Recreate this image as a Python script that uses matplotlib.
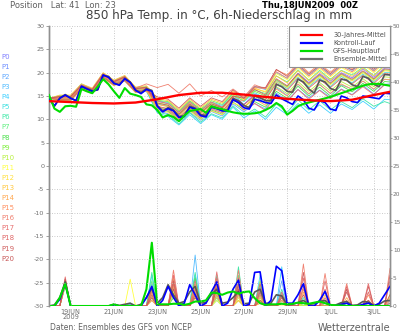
import numpy as np
import matplotlib
matplotlib.use('Agg')
import matplotlib.pyplot as plt
from matplotlib.patches import Rectangle
from matplotlib.lines import Line2D

plt.rcParams['font.family'] = ['DejaVu Sans']
plt.rcParams['axes.unicode_minus'] = False

# ---------------- time axes (hours after 18JUN2009 00Z) ----------------
hours6 = list(range(0, 384, 6))                 # 6-hourly, main runs
hours_mem = list(range(0, 384, 12)) + [378]     # members temperature
red_hours = list(range(0, 384, 24)) + [378]     # climatology

date_days = [1, 3, 5, 7, 9, 11, 13, 15]
date_labels = ["19JUN\n2009", "21JUN", "23JUN", "25JUN", "27JUN", "29JUN", "1JUL", "3JUL"]

# ---------------- 850 hPa temperature (deg C) ----------------
mean_t = [14.5, 12.8, 14.6, 15.3, 14.6, 14.0, 17.0, 16.6, 16.1, 16.3, 19.4, 19.2,
          17.8, 17.4, 18.8, 18.0, 16.3, 15.7, 16.6, 16.2, 13.0, 11.8, 12.5, 12.0,
          10.6, 10.8, 12.8, 12.4, 11.0, 10.8, 12.8, 12.5, 12.0, 12.0, 14.5, 14.0,
          13.0, 12.5, 15.0, 14.6, 14.0, 14.0, 17.5, 17.0, 16.0, 15.8, 18.6, 18.0,
          16.5, 15.6, 18.4, 18.0, 16.6, 16.2, 18.6, 18.4, 17.4, 17.0, 19.2, 18.8,
          17.5, 17.0, 19.6, 19.5]
ctrl_t = [14.5, 12.9, 14.5, 15.2, 14.5, 14.0, 17.1, 16.5, 16.0, 16.4, 19.5, 19.0,
          17.7, 17.3, 18.7, 17.9, 16.2, 15.5, 16.4, 16.0, 12.8, 11.6, 12.3, 11.8,
          10.4, 10.6, 12.6, 12.2, 10.8, 10.5, 12.6, 12.3, 11.8, 11.8, 14.2, 13.6,
          12.5, 12.2, 14.3, 14.0, 13.6, 13.4, 15.2, 14.4, 13.8, 13.2, 15.0, 14.2,
          12.4, 12.0, 14.0, 13.6, 12.2, 11.9, 15.0, 14.6, 13.8, 13.6, 15.0, 14.8,
          14.6, 14.4, 15.6, 15.5]
gfs_t = [15.2, 12.3, 11.6, 12.8, 12.9, 12.7, 16.5, 16.0, 15.6, 17.0, 18.6, 17.5,
         16.0, 14.6, 16.7, 15.5, 15.2, 14.8, 13.2, 13.0, 12.0, 10.4, 10.9, 10.5,
         9.6, 10.8, 11.8, 12.0, 12.2, 11.4, 12.8, 12.4, 12.2, 11.8, 11.5, 11.3,
         11.2, 11.2, 11.3, 11.5, 12.0, 12.6, 13.5, 12.8, 11.0, 11.8, 12.8, 13.3,
         13.6, 13.9, 14.2, 14.5, 14.8, 15.2, 15.6, 16.0, 16.4, 16.8, 17.2, 17.5,
         17.6, 17.6, 17.4, 17.2]
clim_t = [13.9, 13.7, 13.5, 13.4, 13.6, 14.3, 15.2, 15.7, 15.7, 15.3, 14.8, 14.4,
          14.1, 13.9, 14.2, 15.2, 15.9]

mem_t = [
 [14.5,14.8,14.9,17.1,16.4,19.5,18.0,19.1,16.4,16.9,12.6,12.0,10.2,12.2,10.6,12.4,11.4,14.1,13.2,15.4,14.6,18.3,17.0,19.9,17.9,19.8,18.2,20.0,18.9,20.8,19.0,21.0,21.0],
 [14.5,14.3,14.2,16.8,15.8,19.0,17.6,18.4,16.1,16.2,13.9,13.3,11.5,13.5,11.9,13.5,12.6,15.2,13.2,15.0,13.5,16.8,15.1,17.5,15.4,17.5,15.5,17.4,16.5,18.2,16.4,18.6,18.4],
 [14.5,15.0,14.9,17.5,16.4,19.8,18.1,19.1,16.6,16.8,11.9,11.2,9.5,11.5,9.8,11.7,10.7,13.3,11.6,13.4,12.2,15.6,14.0,16.4,14.6,16.3,14.7,16.5,15.3,17.3,15.4,17.5,17.6],
 [14.5,14.7,14.5,17.2,16.0,19.6,17.7,18.9,16.2,16.8,13.6,13.1,11.0,13.4,11.6,13.4,12.8,15.6,14.6,17.0,16.4,20.0,18.8,21.6,19.4,21.5,19.5,21.6,20.5,22.2,20.4,22.6,22.4],
 [14.5,14.1,14.0,16.5,15.6,18.8,17.4,18.2,15.8,16.0,11.4,10.6,8.8,11.0,9.1,11.0,10.0,12.6,10.3,11.8,10.0,12.6,11.0,13.4,11.3,13.1,11.3,13.3,12.1,13.9,12.2,14.3,14.2],
 [14.5,14.9,14.8,17.4,16.3,19.7,18.2,19.0,16.7,16.9,14.0,13.6,11.5,13.9,12.0,13.7,13.0,15.4,13.8,15.7,14.5,18.0,16.6,19.0,17.0,18.9,17.0,19.2,17.8,19.7,18.1,20.0,20.0],
 [14.5,14.4,14.3,16.9,15.8,19.1,17.7,18.5,16.1,16.3,11.6,11.0,9.0,11.4,9.4,11.2,10.3,12.9,10.8,12.2,10.5,13.3,11.5,14.2,12.0,14.0,12.0,13.8,12.5,14.4,12.8,13.8,13.4],
 [14.5,15.1,15.0,17.6,16.5,19.9,18.3,19.3,16.8,17.0,13.3,12.8,10.9,13.1,11.4,13.1,12.5,15.0,14.0,16.3,15.5,19.3,18.0,20.6,18.4,20.5,18.6,20.5,19.5,21.2,19.4,21.6,21.5],
 [14.5,14.2,14.2,16.6,15.7,19.0,17.3,18.4,15.9,16.2,12.1,11.7,9.8,12.0,10.2,12.0,11.1,13.7,12.0,13.8,12.6,16.0,14.5,17.1,15.0,16.9,15.0,17.2,15.9,17.7,16.0,18.1,18.0],
 [14.5,14.8,14.8,17.2,16.3,19.6,18.0,19.0,16.5,16.8,14.1,13.8,11.8,14.0,12.2,14.0,13.2,15.6,14.1,16.0,15.0,18.5,17.0,19.6,17.5,19.4,17.6,19.6,18.4,20.2,18.5,20.6,20.5],
 [14.5,14.5,14.5,16.9,16.0,19.3,17.7,18.7,16.2,16.5,12.7,12.2,10.3,12.5,10.7,12.5,11.7,14.2,12.6,14.6,13.5,17.0,15.5,18.1,16.0,17.9,16.1,18.1,16.9,18.7,17.0,19.1,19.0],
 [14.5,14.9,14.9,17.3,16.4,19.7,18.1,19.1,16.6,16.9,13.6,13.1,11.2,13.4,11.6,13.4,12.6,15.2,14.2,16.5,16.0,19.8,18.5,21.1,19.0,20.9,19.1,21.1,19.9,21.7,20.0,22.1,22.0],
 [14.5,14.3,14.3,16.7,15.8,19.1,17.5,18.5,16.0,16.3,12.0,11.5,9.6,11.8,10.0,11.8,11.0,13.5,12.6,14.9,14.3,18.1,16.8,19.4,17.3,19.2,17.4,19.4,18.2,20.0,18.3,20.4,20.3],
 [14.5,15.2,15.2,17.6,16.7,20.0,18.4,19.4,16.9,17.2,14.5,14.0,12.1,14.3,12.5,14.3,13.5,16.0,14.6,16.7,15.8,19.3,17.8,20.4,18.3,20.2,18.4,20.4,19.2,21.0,19.3,21.4,21.3],
 [14.5,14.0,14.0,16.4,15.5,18.8,17.2,18.2,15.7,16.0,13.2,12.7,10.8,13.0,11.2,13.0,12.2,14.7,12.6,14.4,13.0,16.5,15.0,17.6,15.5,17.4,15.6,17.6,16.4,18.2,16.5,18.6,18.5],
 [14.5,14.7,14.7,17.1,16.2,19.5,17.9,18.9,16.4,16.7,12.4,11.9,10.0,12.2,10.4,12.2,11.4,13.9,14.0,16.8,16.6,20.6,19.5,22.1,20.0,21.9,20.1,22.1,20.9,22.7,21.0,23.1,23.0],
 [14.5,14.9,14.9,17.4,16.5,19.8,18.2,19.2,16.7,17.6,16.8,17.5,15.6,17.6,15.0,16.2,14.8,16.5,14.8,17.4,16.5,20.2,18.8,21.4,19.3,21.2,19.4,21.4,20.2,22.0,20.3,22.4,22.3],
 [14.5,14.4,14.4,16.8,15.9,19.2,17.6,18.6,16.1,16.4,13.9,13.4,11.5,13.7,11.9,13.7,12.6,14.9,12.0,13.4,11.9,15.3,13.8,16.4,14.3,16.2,14.4,16.4,15.2,17.0,15.3,17.4,17.3],
 [14.5,14.8,14.8,17.2,16.3,19.6,18.0,19.0,16.5,16.8,12.8,12.3,10.4,12.6,10.8,12.6,11.8,14.3,13.1,15.2,14.2,17.7,16.2,18.8,16.7,18.6,16.8,18.8,17.6,19.4,17.7,19.8,19.7],
 [14.5,14.2,14.2,16.6,15.7,19.0,17.4,18.4,15.9,16.2,14.8,14.3,12.4,14.6,12.8,14.6,13.8,16.3,14.5,16.4,15.2,18.7,17.2,19.8,17.7,19.6,17.8,19.8,18.6,20.4,18.7,20.8,20.7],
 [14.5,14.9,14.9,17.3,16.4,19.7,18.1,19.1,16.6,16.9,13.5,13.0,11.1,13.3,11.5,13.3,12.5,15.0,14.5,17.0,16.8,20.7,19.2,21.8,19.7,21.6,19.8,21.8,20.6,22.4,20.7,22.8,22.7],
]

# ---------------- 6h precipitation (mm) ----------------
mean_p = [0, 0.2, 1.5, 4.3, 0, 0, 0, 0, 0, 0, 0, 0, 0.3, 0.1, 0.3, 0.5,
          0, 0.3, 1.5, 3.2, 0.5, 1.5, 3.8, 2.0, 0.5, 0.8, 2.5, 3.5, 0.5, 0.6, 2.0, 3.0,
          0.5, 0.7, 1.5, 2.6, 0.4, 0.5, 2.5, 3.0, 0.5, 0.5, 2.0, 1.8, 0.2, 0.3, 0.6, 1.0,
          0.3, 0.4, 0.8, 1.0, 0.1, 0.2, 0.6, 0.8, 0.1, 0.2, 0.8, 0.7, 0.1, 0.3, 0.9, 1.0]
ctrl_p = [0, 0, 1.2, 4.0, 0, 0, 0, 0, 0, 0, 0, 0, 0.2, 0, 0, 0,
          0, 0, 1.5, 3.5, 0, 1.0, 3.5, 1.5, 0, 0.5, 3.8, 2.0, 0, 0.5, 2.5, 4.3,
          0, 0.5, 3.0, 4.6, 0, 0.3, 6.0, 6.1, 0, 1.0, 7.1, 6.3, 0.5, 0.5, 2.0, 4.0,
          0, 0, 1.0, 2.6, 0, 0, 0.3, 0.5, 0, 0, 0.3, 0.5, 0, 0.5, 2.0, 3.5]
gfs_p = [0, 0, 1.5, 4.0, 0, 0, 0, 0, 0, 0, 0, 0, 0.3, 0, 0, 0,
         0, 0, 3.0, 11.3, 0.3, 0.3, 0.3, 0.4, 0.4, 0.2, 0.4, 0.8, 0.8, 1.0, 2.4, 2.3,
         2.0, 2.4, 2.6, 2.2, 2.5, 2.6, 1.4, 0.5, 0.2, 0.3, 0.3, 0.4, 0.3, 0.4, 0.6, 0.5,
         0.4, 0.6, 0.8, 0.5, 0.2, 0.1, 0.1, 0, 0, 0, 0, 0, 0, 0, 0, 0]
# members: 6h amount ending 18Z of each day (other 6h steps dry)
mem_p18 = [
 [4.2,0,0,0,2.5,3.0,3.5,2.0,1.5,3.0,1.0,0,0.5,0,0,1.0],
 [4.5,0,0,0,3.5,4.5,2.0,4.5,3.0,1.0,2.0,0.5,0,0.5,0,0],
 [3.8,0,0,0.3,1.5,2.5,4.0,1.5,2.5,2.0,4.5,0,1.0,0,0.5,0],
 [4.0,0,0,0,4.0,3.5,9.1,3.0,2.0,4.0,2.5,1.0,0,0,0,0.5],
 [4.6,0,0,0.5,5.5,2.0,5.5,2.5,4.0,5.5,7.0,0.5,0,0,0,0],
 [3.5,0,0,0,3.0,5.0,4.5,1.0,3.5,2.5,1.5,0,0.5,0,0,0],
 [4.8,0,0,0,6.0,3.0,6.0,5.5,7.0,3.5,3.0,1.5,0,0,0,0.5],
 [4.0,0,0,0.5,4.5,4.0,3.0,2.0,5.5,2.0,0.5,0,0,0,0,0],
 [4.4,0,0,0,2.0,1.5,5.0,3.5,1.0,1.5,2.0,0.5,1.0,0,0,0],
 [3.6,0,0,0,3.5,3.5,2.5,4.0,2.0,4.5,1.0,0,0,0.5,0,0],
 [4.2,0,0,0,1.0,2.0,1.5,1.5,3.0,1.0,0.5,0,0,0,0,0],
 [3.9,0,0,4.8,2.5,2.5,3.0,1.0,1.5,0.5,1.0,0,0,0,0.5,0],
 [4.5,0,0,0,1.5,3.0,2.0,2.5,1.0,2.0,0,0.5,0,0,0,1.5],
 [4.0,0,0,0,3.0,4.5,4.0,3.0,1.0,1.5,0.5,1.0,2.0,0,1.0,2.0],
 [4.3,0,0,0,2.0,5.0,3.5,4.5,2.5,1.0,0.5,2.5,1.0,1.5,0,0],
 [3.7,0,0,0,1.0,3.5,2.0,2.0,2.0,0.5,1.5,3.0,0.5,0,2.0,1.0],
 [4.6,0,0,0,2.5,6.4,2.5,3.5,6.4,2.0,1.0,7.5,5.8,4.0,1.0,6.7],
 [5.2,0,0,0,3.5,5.5,4.5,6.1,3.5,3.0,2.5,5.0,1.5,1.0,4.0,0.5],
 [4.5,0,0,0,2.0,4.0,3.0,5.0,5.0,4.0,2.0,3.5,4.5,3.5,2.5,4.5],
 [4.1,0,0,0,3.0,4.5,2.0,4.0,3.0,2.5,1.5,6.0,3.0,2.5,3.5,2.0],
 [4.8,0,0,0,1.5,3.0,1.5,3.0,4.0,1.0,0.5,2.0,0,3.0,1.0,5.5],
]

mem_names = ["P%d" % i for i in range(21)]
mem_colors = ['#8080ff', '#7090ff', '#60a8ff', '#50bcff', '#40d0ff', '#40e0e0', '#40e8a8',
              '#60f080', '#50e050', '#80f040', '#b8f040', '#ffff40', '#ffe040', '#ffc840',
              '#ffa850', '#ff9060', '#f08070', '#e87070', '#e06868', '#d06060', '#c85858']

legend_labels = ["30-Jahres-Mittel", "Kontroll-Lauf", "GFS-Hauptlauf", "Ensemble-Mittel"]
legend_colors = ['#ff0000', '#0000ff', '#00dd00', '#707070']

# ---------------- figure ----------------
W, H = 400, 334
fig = plt.figure(figsize=(W / 100, H / 100), dpi=100)
ax = fig.add_axes([49 / W, 1 - 306 / H, 341 / W, 280 / H])
ax2 = ax.twinx()

d6 = np.array(hours6) / 24.0
dm = np.array(hours_mem) / 24.0
dr = np.array(red_hours) / 24.0

for i in range(21):
    ax.plot(dm, mem_t[i], color=mem_colors[i], lw=0.6, zorder=2)
    p = np.zeros(len(hours6))
    for k, v in enumerate(mem_p18[i]):
        p[4 * k + 3] = v
    ax2.plot(d6, p, color=mem_colors[i], lw=0.6, zorder=2)

ax.plot(d6, mean_t, color='#585858', lw=1.2, zorder=4)
ax2.plot(d6, mean_p, color='#585858', lw=1.2, zorder=4)
ax.plot(d6, ctrl_t, color='#0000ff', lw=1.2, zorder=5)
ax2.plot(d6, ctrl_p, color='#0000ff', lw=1.2, zorder=5)
ax.plot(d6, gfs_t, color='#00dd00', lw=1.5, zorder=6)
ax2.plot(d6, gfs_p, color='#00dd00', lw=1.5, zorder=6)
ax.plot(dr, clim_t, color='#ff0000', lw=1.7, zorder=7)

ax.set_xlim(0, 15.75)
ax.set_ylim(-30, 30)
ax2.set_ylim(0, 50)
ax.set_zorder(ax2.get_zorder() + 1)
ax.patch.set_visible(False)

ax.set_yticks(range(-30, 31, 5))
ax.set_yticklabels([str(v) for v in range(-30, 31, 5)])
ax2.set_yticks(range(0, 51, 5))
ax2.set_yticklabels([str(v) for v in range(0, 51, 5)])
ax.set_xticks(date_days)
ax.set_xticklabels(date_labels, linespacing=0.9)

tc = '#707070'
ax.tick_params(axis='y', direction='out', length=2.5, width=0.6, color='#909090',
               labelsize=4.6, labelcolor=tc, pad=1)
ax2.tick_params(axis='y', direction='out', length=1.5, width=0.6, color='#909090',
                labelsize=4.2, labelcolor=tc, pad=0.6)
ax.tick_params(axis='x', length=0, labelsize=4.8, labelcolor=tc, pad=2)

for a in (ax, ax2):
    for s in ('top', 'bottom'):
        a.spines[s].set_visible(False)
    a.spines['left'].set_color('#909090')
    a.spines['right'].set_color('#909090')
    a.spines['left'].set_linewidth(1.0)
    a.spines['right'].set_linewidth(1.0)

ax.grid(True, color='#b8b8b8', lw=0.6, ls=(0, (1, 2)))
ax.set_axisbelow(True)

# legend box (upper right)
ax.add_patch(Rectangle((0.704, 0.855), 0.296, 0.145, transform=ax.transAxes,
                       facecolor='white', edgecolor='#909090', lw=0.8, zorder=10))
for j, (lab, col) in enumerate(zip(legend_labels, legend_colors)):
    yy = 0.967 - j * 0.0285
    ax.add_line(Line2D([0.74, 0.80], [yy, yy], transform=ax.transAxes, color=col,
                       lw=1.6, zorder=11))
    ax.text(0.833, yy, lab, transform=ax.transAxes, fontsize=4.8, color='#505050',
            va='center', ha='left', zorder=11)

# member labels on the left
for i in range(21):
    fig.text(1 / W, 1 - (56.7 + 10.1 * i) / H, mem_names[i], color=mem_colors[i],
             fontsize=5, va='center', ha='left')

fig.text(10 / W, 1 - 5 / H, "Position   Lat: 41  Lon: 23", fontsize=6, color='#606060',
         va='center', ha='left')
fig.text(358 / W, 1 - 5 / H, "Thu,18JUN2009  00Z", fontsize=6, color='black',
         fontweight='bold', va='center', ha='right')
fig.text(219 / W, 1 - 15 / H, "850 hPa Temp. in \u00b0C, 6h-Niederschlag in mm",
         fontsize=8.6, color='#404040', va='center', ha='center')
fig.text(50 / W, 1 - 328 / H, "Daten: Ensembles des GFS von NCEP", fontsize=5.5,
         color='#606060', va='center', ha='left')
fig.text(390 / W, 1 - 328 / H, "Wetterzentrale", fontsize=7, color='#606060',
         va='center', ha='right')

fig.savefig('out.png', dpi=100, facecolor='white')
